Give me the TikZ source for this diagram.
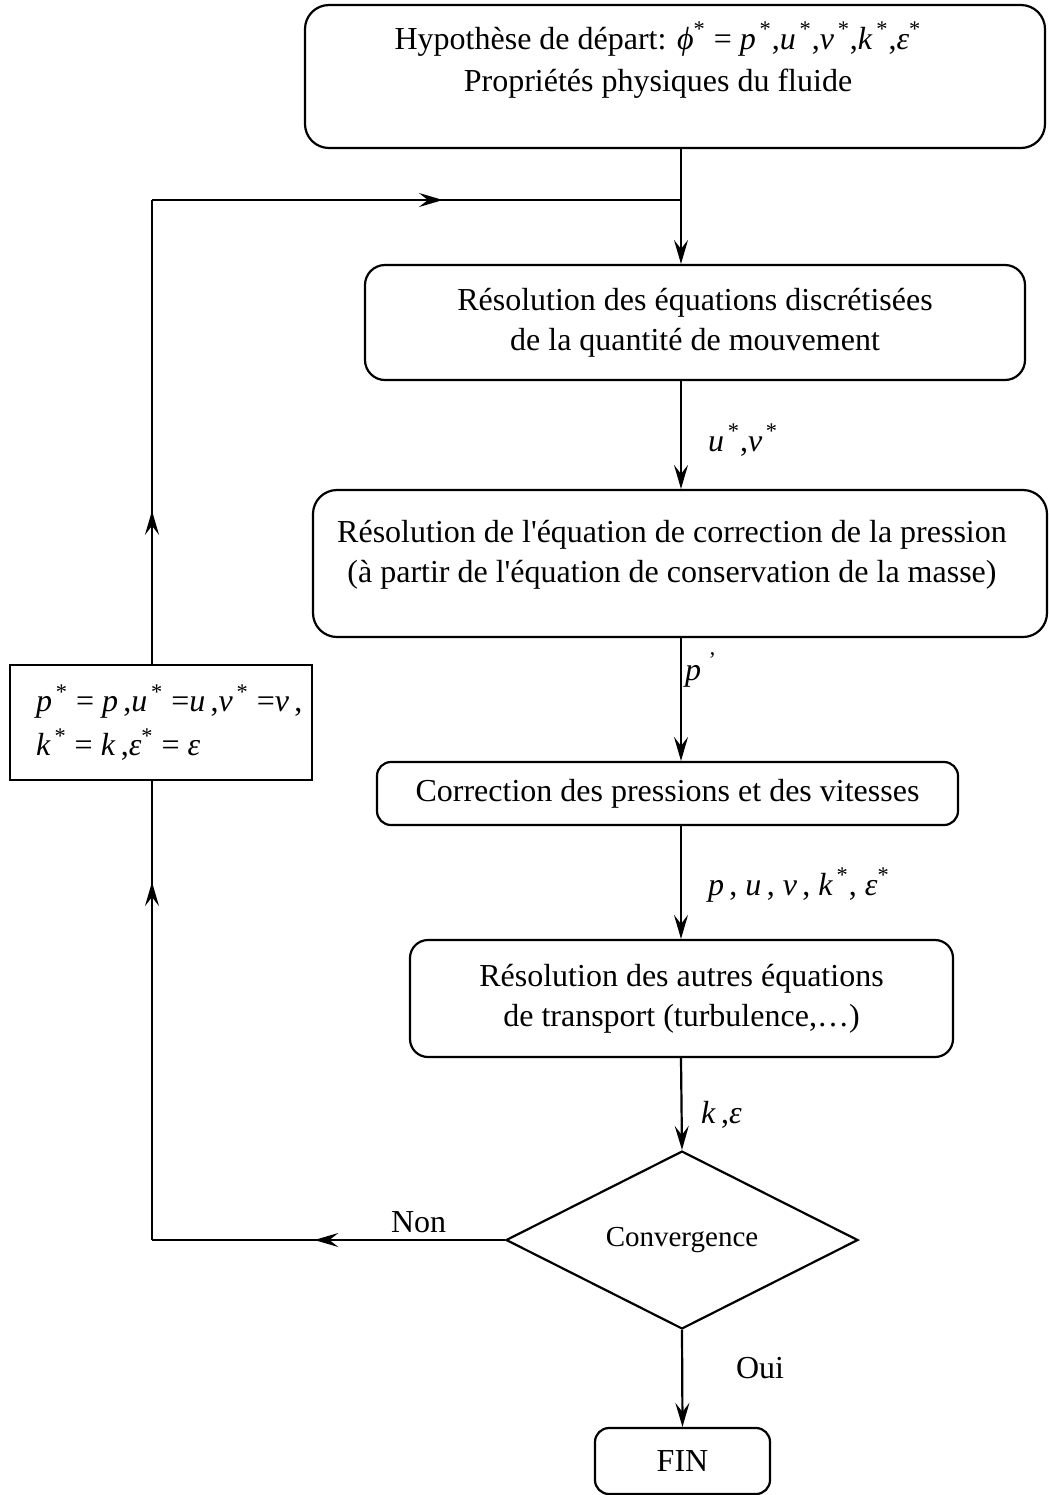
\documentclass[tikz,border=0pt]{standalone}
\usepackage{fontspec}
\setmainfont{Liberation Serif}
\usetikzlibrary{arrows.meta,shapes.geometric,decorations.markings}
\newcommand\vi[1]{\textit{#1}}
\newcommand\st{\textsuperscript{\,*}}
\begin{document}
\begin{tikzpicture}[x=0.5pt,y=-0.5pt,
  font=\fontsize{16}{20}\selectfont, line width=1.1pt,
  arr/.style={-{Stealth[length=12pt,width=7pt,inset=4.5pt]}},
  midarr/.style={postaction={decorate},
    decoration={markings, mark=at position #1 with {\arrow{Stealth[length=12pt,width=7pt,inset=4.5pt]}}}},
  rbox/.style={draw, rounded corners=#1, inner sep=0pt, align=center},
  lbl/.style={anchor=west, inner sep=0pt}]
\useasboundingbox (0,0) rectangle (1049,1495);
\coordinate (axis) at (681,0);
\coordinate (lx) at (152,0);
\coordinate (j) at (681,200);

\node[rbox=12pt, minimum width=370pt, minimum height=71.5pt] (b1) at (675,76.5) {};
\node[align=center, inner sep=0pt] (t1) at (658,60) {Hypothèse de départ: \vi{ϕ}\textsuperscript{*} = \vi{p}\st,\vi{u}\st,\vi{v}\st,\vi{k}\st,\vi{ε}\textsuperscript{*}\\[1pt] Propriétés physiques du fluide};

\node[rbox=10pt, minimum width=330pt, minimum height=57.5pt] (b2) at (695,322.5)
  {Résolution des équations discrétisées\\ de la quantité de mouvement};

\node[rbox=12pt, minimum width=367pt, minimum height=73.5pt] (b3) at (680,563.5) {};
\node[align=center, inner sep=0pt] (t3) at (672,555)
  {Résolution de l\textquotesingle équation de correction de la pression\\ (à partir de l\textquotesingle équation de conservation de la masse)};

\node[rbox=7pt, minimum width=290.5pt, minimum height=31.5pt] (b4) at (667.5,793.5)
  {Correction des pressions et des vitesses};

\node[rbox=9pt, minimum width=271.5pt, minimum height=58.5pt] (b5) at (681.5,998.5)
  {Résolution des autres équations\\ de transport (turbulence,…)};

\node[draw, diamond, inner sep=0pt, minimum width=176pt, minimum height=72pt,
  font=\fontsize{14.5}{18}\selectfont] (d) at (682,1240) {Convergence};

\node[rbox=7pt, minimum width=87.5pt, minimum height=33pt] (fin) at (682.5,1461) {FIN};

\node[draw, minimum width=151pt, minimum height=57.5pt, inner sep=0pt] (b6) at (161,722.5) {};
\node[align=left, anchor=west, inner sep=0pt] (t6) at (35,722.5)
  {\vi{p}\st{} = \vi{p}\,,\vi{u}\st{} =\vi{u}\,,\vi{v}\st{} =\vi{v}\,,\\[2pt]
   \vi{k}\st{} = \vi{k}\,,\vi{ε}\textsuperscript{*} = \vi{ε}};

% main spine
\draw[arr] (axis |- b1.south) -- (axis |- b2.north);
\draw[arr] (axis |- b2.south) -- (axis |- b3.north);
\draw[arr] (axis |- b3.south) -- (axis |- b4.north);
\draw[arr] (axis |- b4.south) -- (axis |- b5.north);
\draw[arr] (axis |- b5.south) -- (d.north);
\draw[arr] (d.south) -- (fin.north);

% loop back
\draw[midarr=0.54] (d.west) -- (lx |- d.west);
\draw[midarr=0.78] (lx |- d.west) -- (lx |- b6.south);
\draw[midarr=0.33] (lx |- b6.north) -- (lx |- j);
\draw[midarr=0.55] (lx |- j) -- (j);

% labels
\node[lbl] (l1) at (707,440) {\vi{u}\st,\vi{v}\st};
\node[lbl] (l2) at (684,670) {\vi{p}\textsuperscript{\,\,'}};
\node[lbl] (l3) at (707,885) {\vi{p}\,, \vi{u}\,, \vi{v}\,, \vi{k}\st, \vi{ε}\textsuperscript{*}};
\node[lbl] (l4) at (700,1115) {\vi{k}\,,\vi{ε}};
\node[lbl] (l5) at (390,1222) {Non};
\node[lbl] (l6) at (735,1368) {Oui};
\end{tikzpicture}
\end{document}
